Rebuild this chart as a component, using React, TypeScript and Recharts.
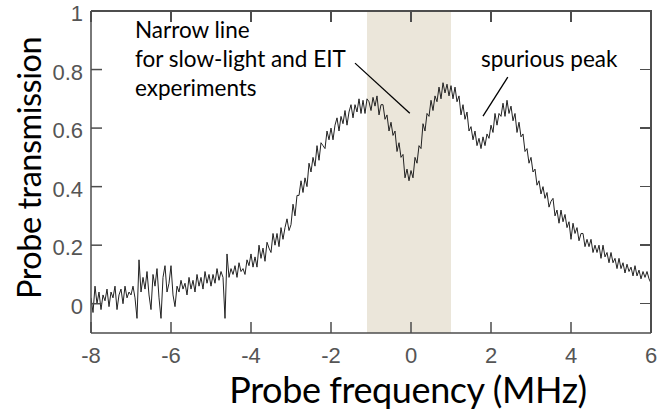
import React from 'react';
import { LineChart, Line, XAxis, YAxis, ReferenceArea, ReferenceLine } from 'recharts';

// probe transmission trace, sampled every 0.05 MHz from -8 to 6 MHz
const freqStart = -8;
const freqStep = 0.05;

const transmission = [
  // -8 .. -7.05
  0.02, -0.03, 0.06, 0.0, 0.04, -0.02, 0.03, 0.01, 0.05, -0.01, 0.04, 0.02, 0.06, -0.02, 0.03, 0.05, 0.0, 0.06, 0.02, 0.04,
  // -7 .. -6.05
  0.03, 0.06, 0.02, -0.05, 0.15, 0.04, 0.09, 0.05, 0.11, 0.03, -0.02, 0.1, 0.06, 0.12, 0.02, -0.05, 0.09, 0.13, 0.04, 0.07,
  // -6 .. -5.05
  0.13, 0.03, -0.01, 0.06, 0.04, 0.08, 0.05, 0.07, 0.03, 0.09, 0.05, 0.08, 0.04, 0.1, 0.06, 0.09, 0.05, 0.11, 0.07, 0.1,
  // -5 .. -4.05
  0.06, 0.1, 0.07, 0.12, 0.08, 0.11, 0.09, -0.05, 0.17, 0.09, 0.12, 0.1, 0.13, 0.09, 0.14, 0.11, 0.12, 0.1, 0.15, 0.13,
  // -4 .. -3.05
  0.17, 0.125, 0.16, 0.125, 0.2, 0.155, 0.19, 0.145, 0.21, 0.19, 0.175, 0.24, 0.2, 0.24, 0.195, 0.26, 0.22, 0.26, 0.29, 0.25,
  // -3 .. -2.05
  0.27, 0.34, 0.3, 0.37, 0.37, 0.42, 0.38, 0.43, 0.4, 0.48, 0.45, 0.5, 0.47, 0.54, 0.49, 0.55, 0.54, 0.53, 0.59, 0.56,
  // -2 .. -1.05
  0.6, 0.56, 0.61, 0.635, 0.59, 0.64, 0.615, 0.66, 0.61, 0.655, 0.68, 0.635, 0.68, 0.655, 0.7, 0.65, 0.695, 0.65, 0.7, 0.69,
  // -1 .. -0.05
  0.66, 0.705, 0.675, 0.71, 0.645, 0.68, 0.68, 0.63, 0.645, 0.59, 0.62, 0.575, 0.59, 0.52, 0.55, 0.5, 0.51, 0.43, 0.46, 0.42,
  // 0 .. 0.95
  0.455, 0.43, 0.5, 0.48, 0.54, 0.53, 0.615, 0.59, 0.65, 0.64, 0.695, 0.66, 0.71, 0.69, 0.74, 0.7, 0.755, 0.72, 0.75, 0.71,
  // 1 .. 1.95
  0.745, 0.7, 0.74, 0.69, 0.71, 0.645, 0.68, 0.63, 0.655, 0.59, 0.605, 0.56, 0.59, 0.54, 0.565, 0.53, 0.57, 0.54, 0.58, 0.565,
  // 2 .. 2.95
  0.61, 0.585, 0.65, 0.61, 0.65, 0.64, 0.685, 0.64, 0.695, 0.65, 0.675, 0.625, 0.65, 0.585, 0.62, 0.57, 0.58, 0.52, 0.53, 0.48,
  // 3 .. 3.95
  0.5, 0.45, 0.46, 0.405, 0.42, 0.375, 0.4, 0.36, 0.38, 0.33, 0.35, 0.36, 0.3, 0.32, 0.275, 0.32, 0.28, 0.305, 0.26, 0.28,
  // 4 .. 4.95
  0.22, 0.275, 0.24, 0.26, 0.215, 0.24, 0.24, 0.195, 0.22, 0.195, 0.22, 0.175, 0.2, 0.175, 0.2, 0.155, 0.2, 0.16, 0.175, 0.14,
  // 5 .. 6
  0.175, 0.14, 0.155, 0.12, 0.155, 0.12, 0.14, 0.105, 0.135, 0.11, 0.125, 0.095, 0.13, 0.095, 0.115, 0.085, 0.11, 0.09, 0.11, 0.085, 0.07,
];

const xTicks = [-8, -6, -4, -2, 0, 2, 4, 6];
const yTicks = [0, 0.2, 0.4, 0.6, 0.8, 1];

const xMin = -8;
const xMax = 6;
const yMin = -0.1;
const yMax = 1;

// shaded band around the narrow line
const bandFrom = -1.1;
const bandTo = 1.0;

const data = transmission.map((t, i) => ({
  freq: Math.round((freqStart + i * freqStep) * 100) / 100,
  t,
}));

const chartW = 657;
const chartH = 414;
const margin = { top: 11, right: 6, bottom: 0, left: 0 };
const yAxisW = 91;
const xAxisH = 81;
const plotLeft = margin.left + yAxisW;
const plotTop = margin.top;
const plotRight = chartW - margin.right;
const plotBottom = chartH - margin.bottom - xAxisH;

const axisColor = '#4d4d4d';
const tickColor = '#555';
const tickFontFamily = 'Liberation Sans, Arial, sans-serif';
const textFont = 'Lato, Calibri, sans-serif';
const tickLen = 11;

// ticks point into the plot, like matlab's default box
const BottomTick = ({ x, y, payload }: any) => (
  <g>
    <line x1={x} y1={y} x2={x} y2={y - tickLen} stroke={axisColor} strokeWidth={1.5} />
    <text x={x} y={y + 30} textAnchor="middle" fill={tickColor} fontSize={22} fontFamily={tickFontFamily}>{payload.value}</text>
  </g>
);

const LeftTick = ({ x, y, payload }: any) => (
  <g>
    <line x1={x} y1={y} x2={x + tickLen} y2={y} stroke={axisColor} strokeWidth={1.5} />
    <text x={x - 8} y={y + 10} textAnchor="end" fill={tickColor} fontSize={22} fontFamily={tickFontFamily}>{payload.value}</text>
  </g>
);

// top and right edges of the box, with their inward ticks, laid over the svg
const BoxOverlay = () => {
  const px = (v: number) => plotLeft + ((v - xMin) / (xMax - xMin)) * (plotRight - plotLeft);
  const py = (v: number) => plotTop + ((yMax - v) / (yMax - yMin)) * (plotBottom - plotTop);
  return (
    <>
      <div style={{ position: 'absolute', left: plotLeft, top: plotTop - 0.75, width: plotRight - plotLeft + 0.75, height: 1.5, background: axisColor }} />
      <div style={{ position: 'absolute', left: plotRight - 0.75, top: plotTop - 0.75, width: 1.5, height: plotBottom - plotTop + 0.75, background: axisColor }} />
      {xTicks.map((t) => (
        <div key={'tx' + t} style={{ position: 'absolute', left: px(t) - 0.75, top: plotTop, width: 1.5, height: tickLen, background: axisColor }} />
      ))}
      {yTicks.map((t) => (
        <div key={'ty' + t} style={{ position: 'absolute', left: plotRight - tickLen, top: py(t) - 0.75, width: tickLen, height: 1.5, background: axisColor }} />
      ))}
    </>
  );
};

const App: React.FC = () => (
  <div style={{ position: 'absolute', left: 0, top: 0, width: chartW, height: chartH, background: '#fff' }}>
    <LineChart width={chartW} height={chartH} data={data} margin={margin}>
      <ReferenceArea x1={bandFrom} x2={bandTo} y1={yMin} y2={yMax} fill="#ebe6da" fillOpacity={1} stroke="none" />
      <XAxis
        dataKey="freq"
        type="number"
        domain={[xMin, xMax]}
        ticks={xTicks}
        height={xAxisH}
        stroke={axisColor}
        strokeWidth={1.5}
        tickLine={false}
        tickSize={0}
        tickMargin={0}
        tick={<BottomTick />}
        allowDataOverflow
      />
      <YAxis
        type="number"
        domain={[yMin, yMax]}
        ticks={yTicks}
        width={yAxisW}
        stroke={axisColor}
        strokeWidth={1.5}
        tickLine={false}
        tickSize={0}
        tickMargin={0}
        tick={<LeftTick />}
        allowDataOverflow
      />
      <ReferenceLine segment={[{ x: -1.4, y: 0.822 }, { x: -0.03, y: 0.651 }]} stroke="#000" strokeWidth={1.3} />
      <ReferenceLine segment={[{ x: 2.42, y: 0.774 }, { x: 1.8, y: 0.641 }]} stroke="#000" strokeWidth={1.3} />
      <Line type="linear" dataKey="t" stroke="#222" strokeWidth={1} dot={false} isAnimationActive={false} />
    </LineChart>

    <BoxOverlay />

    <div style={{ position: 'absolute', left: 135, top: 15, fontFamily: textFont, fontSize: 22.5, lineHeight: '29px', color: '#000', whiteSpace: 'nowrap' }}>
      Narrow line<br />for slow-light and EIT<br />experiments
    </div>
    <div style={{ position: 'absolute', left: 481, top: 43.5, fontFamily: textFont, fontSize: 22.5, lineHeight: '29px', color: '#000', whiteSpace: 'nowrap' }}>
      spurious peak
    </div>
    <div style={{ position: 'absolute', left: 408, top: 374, transform: 'translateX(-50%)', whiteSpace: 'nowrap', fontFamily: textFont, fontSize: 36, lineHeight: '30px', letterSpacing: '-0.4px', color: '#000' }}>
      Probe frequency (MHz)
    </div>
    <div style={{ position: 'absolute', left: 27.6, top: 168, transform: 'translate(-50%, -50%) rotate(-90deg)', whiteSpace: 'nowrap', fontFamily: textFont, fontSize: 32.5, lineHeight: 1.2, letterSpacing: '-0.5px', color: '#000' }}>
      Probe transmission
    </div>
  </div>
);

export default App;
